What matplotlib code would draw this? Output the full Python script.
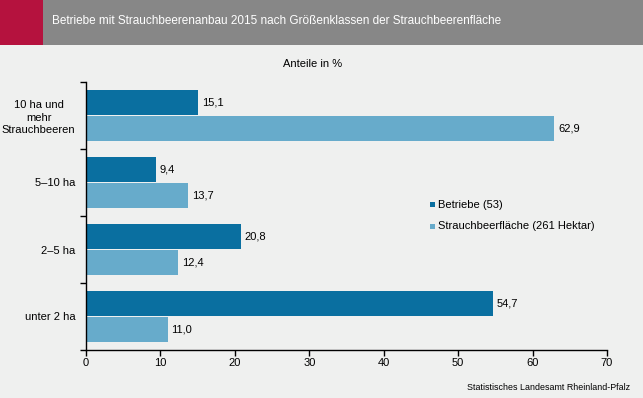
import numpy as np
import matplotlib.pyplot as plt
from matplotlib.patches import Rectangle

categories = ["10 ha und\nmehr\nStrauchbeeren", "5\u201310 ha", "2\u20135 ha", "unter 2 ha"]
betriebe = [15.1, 9.4, 20.8, 54.7]
flaeche = [62.9, 13.7, 12.4, 11.0]
series_names = ["Betriebe (53)", "Strauchbeerfl\u00e4che (261 Hektar)"]
xticks = [0, 10, 20, 30, 40, 50, 60, 70]

plt.rcParams['font.family'] = ['Liberation Sans', 'DejaVu Sans']

bg = '#eff0ef'
dark = '#0a6fa0'
light = '#67abcb'

fig = plt.figure(figsize=(6.43, 3.98), dpi=100, facecolor=bg)

# title bar
fig.patches.append(Rectangle((0, 1 - 45 / 398), 1, 45 / 398, transform=fig.transFigure,
                             facecolor='#878787', edgecolor='none', zorder=0))
fig.patches.append(Rectangle((0, 1 - 45 / 398), 43 / 643, 45 / 398, transform=fig.transFigure,
                             facecolor='#b5123e', edgecolor='none', zorder=1))
fig.text(52 / 643, 1 - 21 / 398, "Betriebe mit Strauchbeerenanbau 2015 nach Gr\u00f6\u00dfenklassen der Strauchbeerenfl\u00e4che",
         color='white', fontsize=8.5, va='center', ha='left')

ax = fig.add_axes([86 / 643, 48 / 398, 521 / 643, 268 / 398])
ax.set_facecolor(bg)

y = np.arange(len(categories))[::-1]
h = 0.375
b1 = ax.barh(y + 0.19, betriebe, height=h, color=dark)
b2 = ax.barh(y - 0.19, flaeche, height=h, color=light)

for bars, vals in [(b1, betriebe), (b2, flaeche)]:
    for bar, v in zip(bars, vals):
        ax.text(v + 0.5, bar.get_y() + bar.get_height() / 2, f"{v:.1f}".replace('.', ','),
                va='center', ha='left', fontsize=8)

ax.set_xlim(0, 70)
ax.set_ylim(-0.5, 3.5)
ax.set_xticks(xticks)
ax.set_xticklabels([str(t) for t in xticks], fontsize=8)
ax.set_yticks(y)
ax.set_yticklabels(categories, fontsize=8, ha='right', multialignment='center', linespacing=1.3)
ax.tick_params(axis='y', which='major', length=0, pad=7.5)
ax.set_yticks(np.arange(-0.5, 4, 1), minor=True)
ax.tick_params(axis='y', which='minor', length=4, width=1)
ax.tick_params(axis='x', length=4, width=1, pad=2)
for s in ['top', 'right']:
    ax.spines[s].set_visible(False)
ax.spines['left'].set_linewidth(1)
ax.spines['bottom'].set_linewidth(1)

fig.text(313 / 643, 1 - 64 / 398, "Anteile in %", fontsize=8, ha='center', va='center')

# legend
lx = 430 / 643
for i, (name, c) in enumerate(zip(series_names, [dark, light])):
    yy = 1 - (205 + 21 * i) / 398
    fig.patches.append(Rectangle((lx, yy - 2.5 / 398), 5 / 643, 5 / 398, transform=fig.transFigure,
                                 facecolor=c, edgecolor='none'))
    fig.text(lx + 8 / 643, yy, name, fontsize=8, va='center', ha='left')

fig.text(630 / 643, 1 - 387 / 398, "Statistisches Landesamt Rheinland-Pfalz", fontsize=6.4,
         ha='right', va='center')

fig.savefig('out.png', dpi=100, facecolor=bg)
